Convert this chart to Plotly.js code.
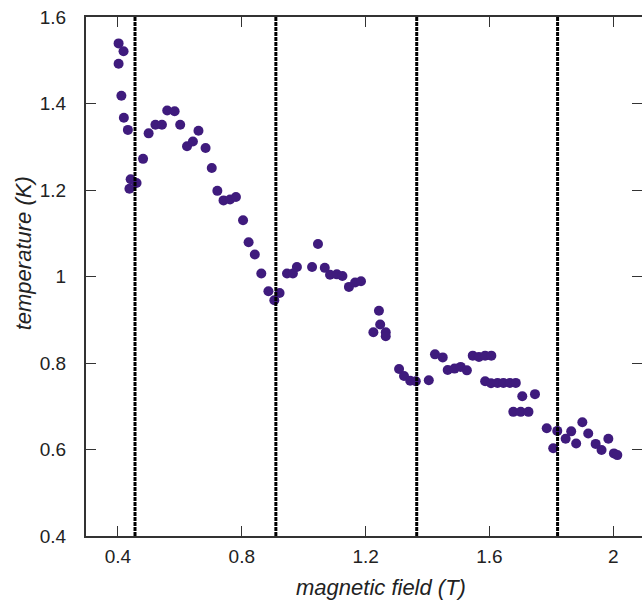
<!DOCTYPE html>
<html>
<head>
<meta charset="utf-8">
<script src="https://cdn.plot.ly/plotly-3.0.1.min.js"></script>
<style>html,body{margin:0;padding:0;background:#fff;}#chart{width:642px;height:601px;}</style>
</head>
<body>
<div id="chart"></div>
<script>
// magnetic field (T)
var fieldT = [0.402,0.418,0.402,0.411,0.419,0.432,0.441,0.460,0.437,0.481,0.499,0.521,0.542,0.559,0.583,0.601,0.623,0.642,0.660,0.683,0.703,0.721,0.741,0.762,0.781,0.804,0.822,0.842,0.863,0.886,0.905,0.922,0.946,0.965,0.978,1.027,1.046,1.068,1.085,1.107,1.125,1.146,1.166,1.185,1.225,1.243,1.247,1.265,1.265,1.308,1.324,1.344,1.362,1.404,1.424,1.449,1.465,1.487,1.507,1.527,1.546,1.566,1.586,1.606,1.586,1.605,1.626,1.645,1.666,1.685,1.706,1.747,1.677,1.701,1.726,1.785,1.819,1.806,1.846,1.864,1.880,1.900,1.919,1.943,1.962,1.984,2.002,2.013];
// temperature (K)
var temperatureK = [1.539,1.521,1.492,1.418,1.367,1.339,1.225,1.216,1.203,1.272,1.331,1.351,1.351,1.384,1.382,1.351,1.301,1.312,1.337,1.297,1.251,1.198,1.176,1.178,1.184,1.130,1.079,1.051,1.007,0.966,0.945,0.962,1.007,1.007,1.022,1.022,1.075,1.020,1.004,1.005,1.001,0.976,0.986,0.989,0.871,0.921,0.889,0.871,0.862,0.786,0.770,0.759,0.758,0.760,0.820,0.813,0.784,0.787,0.791,0.783,0.817,0.814,0.817,0.817,0.758,0.753,0.754,0.754,0.754,0.754,0.723,0.728,0.687,0.687,0.687,0.649,0.643,0.603,0.625,0.642,0.614,0.663,0.637,0.613,0.599,0.625,0.591,0.587];
// vertical dashed markers (T)
var transitionFields = [0.455, 0.91, 1.365, 1.82];
var xTickVals = [0.4, 0.8, 1.2, 1.6, 2];
var xTickText = ['0.4', '0.8', '1.2', '1.6', '2'];
var yTickVals = [0.4, 0.6, 0.8, 1, 1.2, 1.4, 1.6];
var yTickText = ['0.4', '0.6', '0.8', '1', '1.2', '1.4', '1.6'];
var xTitle = 'magnetic field (T)';
var yTitle = 'temperature (K)';

var yMin = 0.4, yMax = 1.6;
var traces = [{
  type: 'scatter', mode: 'markers', x: fieldT, y: temperatureK,
  marker: {color: '#3f1b7d', size: 10, line: {width: 0}},
  hoverinfo: 'skip', showlegend: false
}];
transitionFields.forEach(function (v) {
  traces.push({
    type: 'scatter', mode: 'lines', x: [v, v], y: [yMin, yMax],
    line: {color: '#000', width: 3, dash: '4px,1px'},
    hoverinfo: 'skip', showlegend: false
  });
});

var fam = '"Liberation Sans", Arial, Helvetica, sans-serif';
var font = {family: fam, color: '#222', size: 19};
var titleFont = {family: fam, color: '#222', size: 22};
var axisCommon = {
  showgrid: false, zeroline: false, showline: true, linecolor: '#333', linewidth: 2,
  mirror: 'ticks', ticks: 'inside', ticklen: 10, tickwidth: 1, tickcolor: '#333',
  tickfont: font
};
var layout = {
  width: 642, height: 601,
  margin: {l: 86, r: 0, t: 17, b: 65},
  paper_bgcolor: '#fff', plot_bgcolor: '#fff',
  font: font,
  xaxis: Object.assign({}, axisCommon, {
    range: [0.2967, 2.0927], tickmode: 'array', tickvals: xTickVals, ticktext: xTickText,
    ticklabelstandoff: 2
  }),
  yaxis: Object.assign({}, axisCommon, {
    range: [yMin, yMax], tickmode: 'array', tickvals: yTickVals, ticktext: yTickText,
    ticklabelstandoff: 14
  }),
  annotations: [
    {text: '<i>' + xTitle + '</i>', xref: 'paper', yref: 'paper', x: 0.531, y: -0.1,
     xanchor: 'center', yanchor: 'middle', showarrow: false, font: titleFont},
    {text: '<i>' + yTitle + '</i>', xref: 'paper', yref: 'paper', x: -0.113, y: 0.545,
     xanchor: 'center', yanchor: 'middle', textangle: -90, showarrow: false, font: titleFont}
  ]
};
Plotly.newPlot('chart', traces, layout, {displayModeBar: false, staticPlot: true});
</script>
</body>
</html>
